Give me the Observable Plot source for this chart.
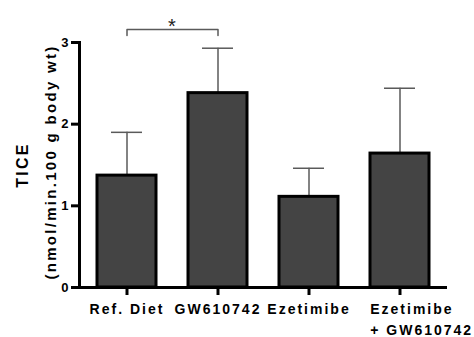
<!DOCTYPE html>
<html><head><meta charset="utf-8">
<script src="https://cdn.jsdelivr.net/npm/d3@7"></script>
<script src="https://cdn.jsdelivr.net/npm/@observablehq/plot@0.6"></script>
<style>
body{margin:0;background:#fff}
#chart svg{display:block}
</style>
</head><body><div id="chart"></div>
<script>
const groups = ["Ref. Diet", "GW610742", "Ezetimibe", "Ezetimibe + GW610742"];
const means = [1.37, 2.38, 1.11, 1.64];
const upperErr = [1.90, 2.93, 1.46, 2.44];
const yTicks = [0, 1, 2, 3];
const labelLine1 = ["Ref. Diet", "GW610742", "Ezetimibe", "Ezetimibe"];
const labelLine2 = ["", "", "", "+ GW610742"];
const yLabel1 = "TICE";
const yLabel2 = "(nmol/min.100 g body wt)";
const sigPair = ["Ref. Diet", "GW610742"];
const sigBracketTop = 3.16;
const sigBracketFoot = 3.085;
const sigMark = "*";
const sigMarkY = 3.2;

const data = groups.map((g, i) => ({group: g, mean: means[i], upper: upperErr[i], l1: labelLine1[i], l2: labelLine2[i]}));
const bracket = [
  {x: sigPair[0], y: sigBracketFoot},
  {x: sigPair[0], y: sigBracketTop},
  {x: sigPair[1], y: sigBracketTop},
  {x: sigPair[1], y: sigBracketFoot}
];

const W = 474, H = 337, ML = 79, MR = 27, MT = 42, MB = 50;
const padIn = 0.35, padOut = 0.183;
const step = (W - ML - MR) / (groups.length - padIn + 2 * padOut);
const bw = step * (1 - padIn);
const font = "'Liberation Sans', Arial, Helvetica, sans-serif";
const errColor = "#5a5a5a";
const TICK = 8;

const last = groups[groups.length - 1];
const lab = {fontSize: 14, fontWeight: "bold", fill: "#000", frameAnchor: "bottom", lineAnchor: "middle"};
const plot = Plot.plot({
  width: W, height: H,
  marginLeft: ML, marginRight: MR, marginTop: MT, marginBottom: MB,
  style: {fontFamily: font, background: "#fff", overflow: "visible"},
  x: {type: "band", domain: groups, paddingInner: padIn, paddingOuter: padOut, axis: null},
  y: {domain: [0, 3], axis: null},
  marks: [
    Plot.ruleX(data, {x: "group", y1: "mean", y2: "upper", stroke: errColor, strokeWidth: 1.5}),
    Plot.tickY(data, {x: "group", y: "upper", stroke: errColor, strokeWidth: 1.5, insetLeft: 14, insetRight: 14}),
    Plot.barY(data, {x: "group", y: "mean", fill: "#444444", stroke: "#000", strokeWidth: 3}),
    Plot.frame({anchor: "left", stroke: "#000", strokeWidth: 3}),
    Plot.ruleY([0], {stroke: "#000", strokeWidth: 3}),
    // y ticks (short rules left of the axis) + labels
    Plot.ruleY(yTicks, {y: d => d, dx: -TICK, insetRight: W - ML - MR - TICK, stroke: "#000", strokeWidth: 3}),
    Plot.text(yTicks, {y: d => d, frameAnchor: "left", textAnchor: "end", dx: -11, text: d => d3.format("d")(d), fontSize: 13, fontWeight: "bold", fill: "#000"}),
    // x ticks (short rules below the axis)
    Plot.ruleX(groups, {x: d => d, insetTop: H - MT - MB, insetBottom: -TICK, stroke: "#000", strokeWidth: 3}),
    // x labels
    Plot.text(data.filter(d => d.group !== last), {...lab, x: "group", text: "l1", textAnchor: "middle", dy: 22}),
    Plot.text(data.filter(d => d.group === last), {...lab, x: "group", text: "l1", textAnchor: "start", dx: -bw / 2, dy: 22}),
    Plot.text(data.filter(d => d.group === last), {...lab, x: "group", text: "l2", textAnchor: "start", dx: -bw / 2, dy: 43}),
    // y label
    Plot.text([yLabel1], {text: d => d, frameAnchor: "left", textAnchor: "middle", rotate: -90, lineAnchor: "bottom", dx: -52, fontSize: 16, fontWeight: "bold", fill: "#000"}),
    Plot.text([yLabel2], {text: d => d, frameAnchor: "left", textAnchor: "middle", rotate: -90, lineAnchor: "bottom", dx: -24, dy: -3, fontSize: 15, fontWeight: "bold", fill: "#000"}),
    // significance
    Plot.line(bracket, {x: "x", y: "y", stroke: errColor, strokeWidth: 1.5}),
    Plot.text([sigMark], {x: () => sigPair[0], y: () => sigMarkY, text: d => d, dx: step / 2, fontSize: 20, fill: "#222", lineAnchor: "middle"})
  ]
});
document.getElementById("chart").appendChild(plot);
const texts = plot.querySelectorAll("g[aria-label='text']");
texts.forEach(g => g.querySelectorAll("text").forEach(t => t.style.letterSpacing = "2px"));
[texts[4], texts[5]].forEach(g => g && g.querySelectorAll("text").forEach(t => t.style.letterSpacing = "2.3px"));
texts[0].querySelectorAll("text").forEach(t => t.style.letterSpacing = "0px");
</script>
</body></html>
